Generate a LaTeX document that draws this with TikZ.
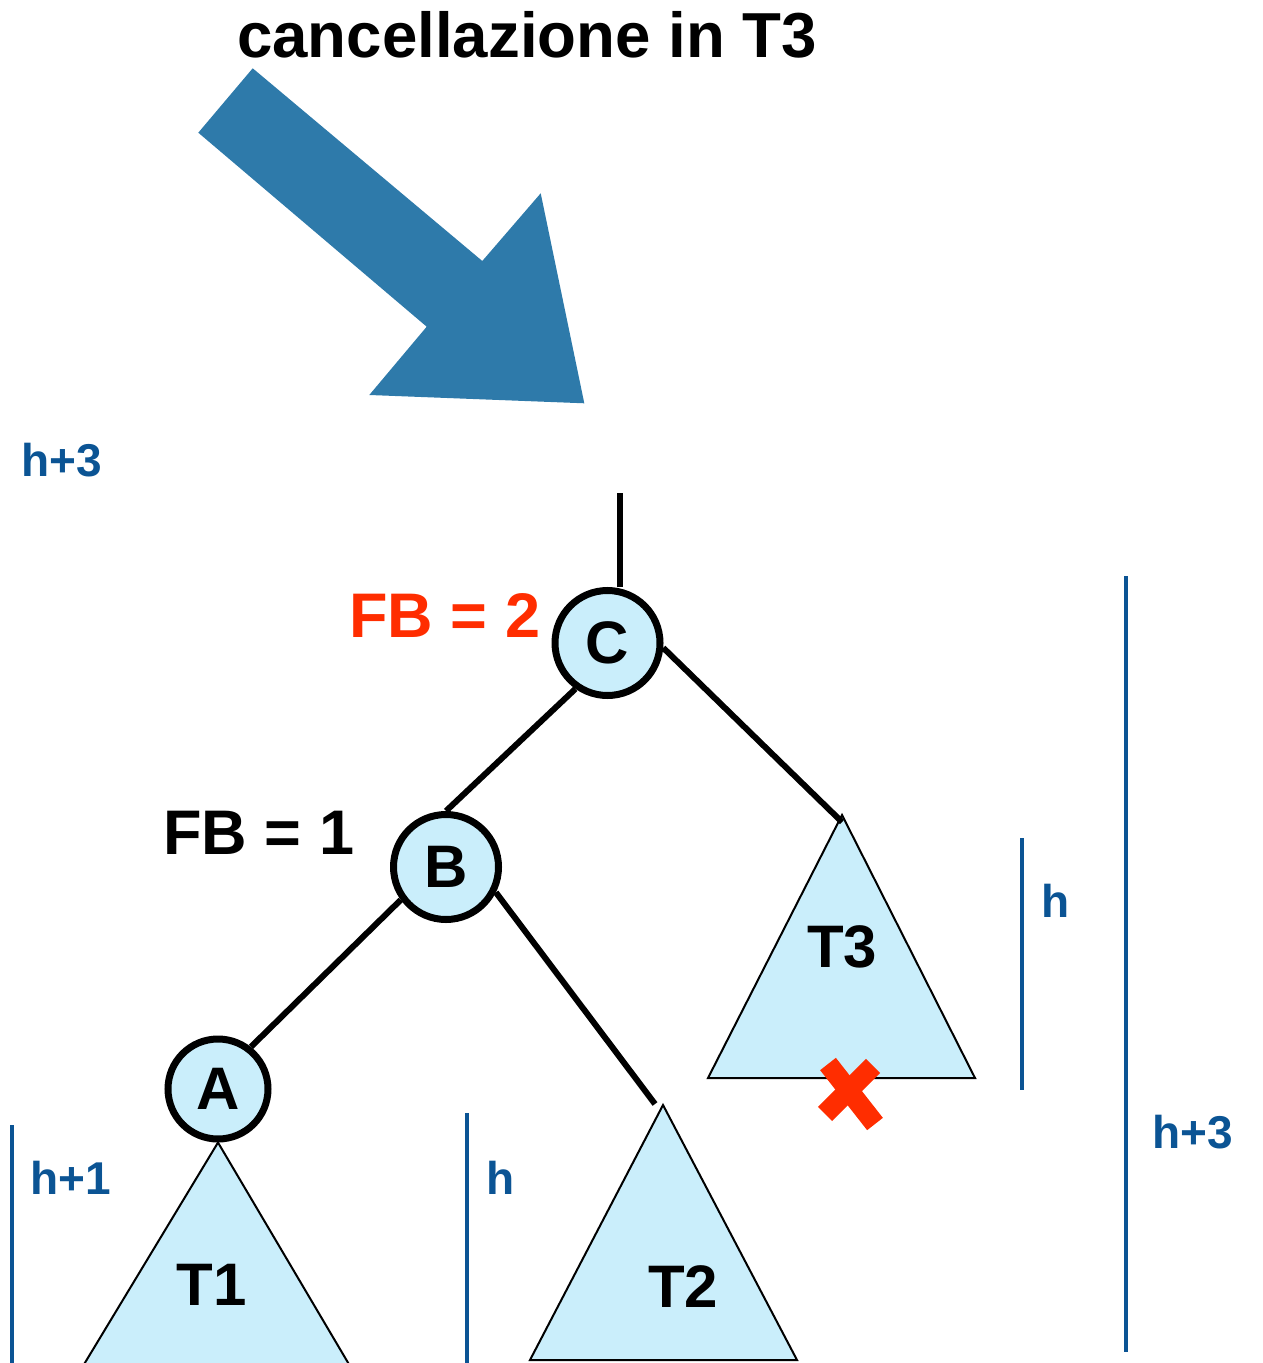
\documentclass[tikz,border=0pt]{standalone}
\usepackage{fontspec}
\usetikzlibrary{calc}
\setmainfont{Liberation Sans}
\definecolor{nodefill}{RGB}{202,238,251}
\definecolor{arrowblue}{RGB}{46,122,170}
\definecolor{dimblue}{RGB}{11,84,148}
\definecolor{xred}{RGB}{255,45,0}
\tikzset{
  treenode/.style={circle,draw=black,line width=3.5pt,fill=nodefill,minimum size=52.5pt,inner sep=0pt,font=\fontsize{30}{36}\selectfont\bfseries},
  edge/.style={line width=3pt},
  subtree/.style={draw=black,line width=1pt,fill=nodefill,line join=miter},
  treelabel/.style={font=\fontsize{30}{36}\selectfont\bfseries,anchor=base},
  dimbar/.style={draw=dimblue,line width=2pt},
  dimlabel/.style={text=dimblue,font=\fontsize{23}{27}\selectfont\bfseries,anchor=base west,inner sep=0pt},
  fblabel/.style={font=\fontsize{31.5}{36}\selectfont\bfseries,anchor=base west,inner sep=0pt}
}
\begin{document}
\begin{tikzpicture}[x=0.5pt,y=-0.5pt]
\useasboundingbox (0,0) rectangle (1262,1363);
% title
\node[font=\fontsize{31.8}{36}\selectfont\bfseries,anchor=base,inner sep=0pt] (title) at (527,58) {cancellazione in T3};
% big arrow
\fill[arrowblue] (252.7,68.3) -- (482.3,261) -- (540.7,193.3) -- (584.3,403.3) -- (369.3,395) -- (426.7,326.7) -- (198.3,132.7) -- cycle;
% top-left label
\node[dimlabel] (htl) at (21,476) {h+3};
% subtrees
\coordinate (T3top) at (842,815);
\coordinate (T3join) at (842,822);
\coordinate (T2top) at (663,1105);
\coordinate (T2join) at (655,1104);
\path[subtree] (T3top) -- (975,1078) -- (708,1078) -- cycle;
\path[subtree] (T2top) -- (797,1360) -- (530,1360) -- cycle;
% nodes
\node[treenode] (C) at (607.5,643) {C};
\node[treenode] (B) at (446,867) {B};
\node[treenode,minimum size=50pt] (A) at (218,1089) {A};
\path[subtree] (A.south) -- (350,1366) -- (83,1366) -- cycle;
\node[treelabel] (T1) at (212,1305) {T1};
\node[treelabel] (T2) at (683,1307) {T2};
\node[treelabel] (T3) at (842,967) {T3};
% root line and edges
\coordinate (rootend) at (620,493);
\draw[edge] (rootend) -- (C.north -| rootend);
\draw[edge] (C.235) -- (B.north);
\draw[edge] (C.-5) -- (T3join);
\draw[edge] (B.216) -- (A.52);
\draw[edge] (B.-27) -- (T2join);
% FB labels
\node[fblabel,text=xred] (fb2) at (349,637) {FB = 2};
\node[fblabel] (fb1) at (163,854) {FB = 1};
% red X
\coordinate (xc) at (850,1094);
\draw[xred,line width=10pt] ($(xc)+(-22,-30)$) -- ($(xc)+(25,30)$);
\draw[xred,line width=10pt] ($(xc)+(23,-28)$) -- ($(xc)+(-25,20)$);
% dimension bars
\coordinate (b1t) at (12,1125); \coordinate (b1b) at (12,1363);
\draw[dimbar] (b1t) -- (b1b);
\node[dimlabel] (lh1) at (30,1194) {h+1};
\coordinate (b2t) at (467,1113); \coordinate (b2b) at (467,1363);
\draw[dimbar] (b2t) -- (b2b);
\node[dimlabel] (lh2) at (486,1194) {h};
\coordinate (b3t) at (1022,838); \coordinate (b3b) at (1022,1090);
\draw[dimbar] (b3t) -- (b3b);
\node[dimlabel] (lh3) at (1041,917) {h};
\coordinate (b4t) at (1126,576); \coordinate (b4b) at (1126,1352);
\draw[dimbar] (b4t) -- (b4b);
\node[dimlabel] (lh4) at (1152,1148) {h+3};
\end{tikzpicture}
\end{document}
